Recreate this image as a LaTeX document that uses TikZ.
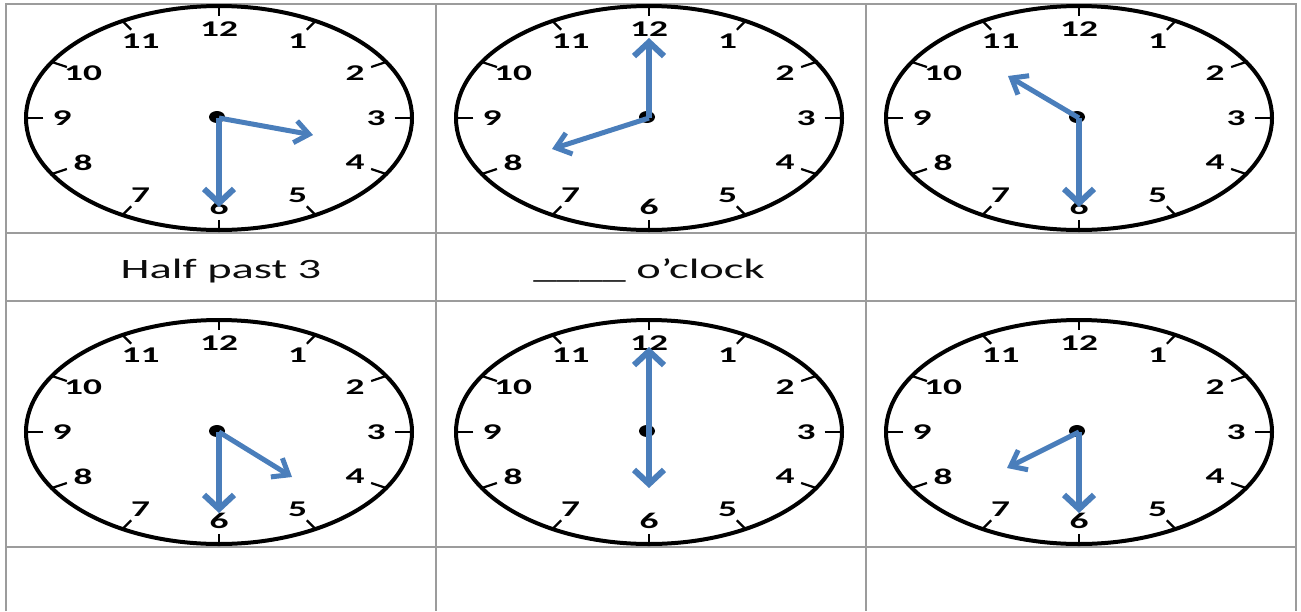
\documentclass[tikz,border=0pt]{standalone}
\usepackage{fontspec}
\usepackage{graphicx}
\setmainfont{Carlito}
\usetikzlibrary{arrows.meta}
\definecolor{handblue}{HTML}{4A7EBB}
\definecolor{gridgray}{HTML}{9C9C9C}
\newcommand{\wide}[1]{\scalebox{1.66}[1]{#1}}
\tikzset{
  gridline/.style={draw=gridgray, line width=2pt},
  clockface/.style={draw=black, line width=4pt},
  hourtick/.style={draw=black, line width=2.2pt},
  num/.style={font=\fontsize{22.5}{24}\selectfont\bfseries, inner sep=0pt, text=black},
  hub/.style={fill=black},
  longhand/.style={draw=handblue, line width=6pt, -{Straight Barb[length=14pt,width=30pt]}},
  shorthand/.style={draw=handblue, line width=5pt, -{Straight Barb[length=14pt,width=22pt]}},
  celltext/.style={font=\fontsize{28}{30}\selectfont, text=black!95, anchor=base, inner sep=0pt},
}
\newcommand{\drawclock}[3]{%
  \begin{scope}[shift={(#2,#3)}]
    \draw[clockface] (0,0) ellipse [x radius=193, y radius=112];
    \foreach \h in {1,...,12}{
      \draw[hourtick] ({193*0.91*cos(90-30*\h)}, {-112*0.91*sin(90-30*\h)}) -- ({193*cos(90-30*\h)}, {-112*sin(90-30*\h)});
      \node[num] (#1-\h) at ({157*cos(90-30*\h)}, {-89*sin(90-30*\h)}) {\wide{\h}};
    }
    \fill[hub] (-2,-1) ellipse [x radius=8, y radius=6];
    \coordinate (#1-c) at (0,0);
  \end{scope}}
\begin{document}
\begin{tikzpicture}[x=1pt,y=-1pt]
\useasboundingbox (0,0) rectangle (1301,611);
% table grid
\draw[gridline] (6,611) -- (6,4) -- (1296,4) -- (1296,611);
\draw[gridline] (436,4) -- (436,611);
\draw[gridline] (866,4) -- (866,611);
\draw[gridline] (6,233) -- (1296,233);
\draw[gridline] (6,301) -- (1296,301);
\draw[gridline] (6,547) -- (1296,547);
% clocks
\drawclock{k1}{219}{118}
\drawclock{k2}{649}{118}
\drawclock{k3}{1079}{118}
\drawclock{k4}{219}{432}
\drawclock{k5}{649}{432}
\drawclock{k6}{1079}{432}
% hand tips
\coordinate (k1-m) at (219,207);
\coordinate (k1-s) at (313,135);
\coordinate (k2-m) at (649,38);
\coordinate (k2-s) at (552,149);
\coordinate (k3-m) at (1079,207);
\coordinate (k3-s) at (1008,76);
\coordinate (k4-m) at (219,513);
\coordinate (k4-s) at (292,477);
\coordinate (k5-m) at (649,347);
\coordinate (k5-s) at (649,488);
\coordinate (k6-m) at (1079,513);
\coordinate (k6-s) at (1007,468);
% hands
\foreach \k in {k1,k2,k3,k4,k6}{
  \draw[shorthand] (\k-c) -- (\k-s);
  \draw[longhand] (\k-c) -- (\k-m);
}
\draw[longhand] (k5-c) -- (k5-s);
\draw[longhand] (k5-c) -- (k5-m);
% texts
\node[celltext] (t1) at (221,278) {\wide{Half past 3}};
\node[celltext] (t2) at (649,278) {\wide{\_\_\_\_ o’clock}};
\end{tikzpicture}
\end{document}
